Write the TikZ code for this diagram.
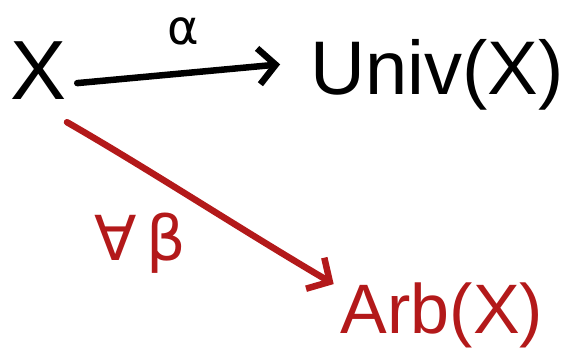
\documentclass[tikz,border=0pt]{standalone}
\usepackage{fontspec}
\setmainfont{Liberation Sans}
\newfontfamily\symfont{DejaVu Sans}
\usetikzlibrary{arrows.meta}
\definecolor{inkred}{HTML}{B3191A}
\begin{document}
\begin{tikzpicture}[x=1pt,y=-1pt,
  obj/.style={inner sep=0pt, anchor=base},
  ink/.style={line width=6.5pt, line cap=round, line join=round},
  tip/.style={-{Straight Barb[length=17pt,width=36pt,line width=6.5pt]}}]
\useasboundingbox (0,0) rectangle (571,349);

% objects
\node[obj, font=\fontsize{84}{84}\selectfont] (x) at (39,99) {X};
\node[obj, font=\fontsize{76}{76}\selectfont] (univ) at (437,94) {Univ(X)};
\node[obj, font=\fontsize{70}{70}\selectfont, text=inkred] (arb) at (442,333) {Arb(X)};

% labels
\node[inner sep=0pt, font=\symfont\fontsize{48}{48}\selectfont] (alpha) at (183,31) {α};
\node[inner sep=0pt, font=\symfont\fontsize{62}{62}\selectfont, text=inkred] (beta) at (140,243) {∀\hspace{10pt}β};

% the universal map
\draw[ink, tip] ([xshift=10pt,yshift=-13pt]x.east) -- ([xshift=-30pt,yshift=10pt]univ.west);

% an arbitrary map
\draw[ink, tip, draw=inkred]
  ([xshift=28pt,yshift=-23pt]x.south)
  .. controls (150,170) and (240,229) ..
  ([xshift=-7pt,yshift=-2pt]arb.north west);
\end{tikzpicture}
\end{document}
